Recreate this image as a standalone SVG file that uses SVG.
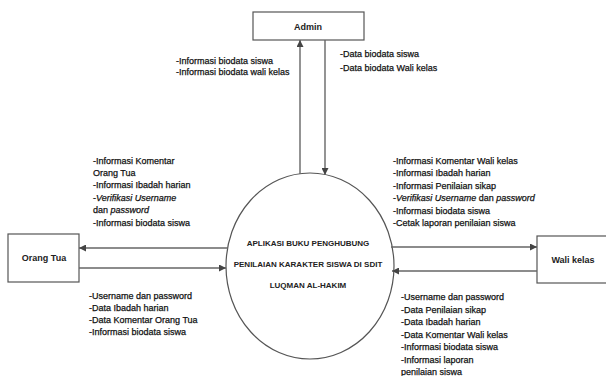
<svg xmlns="http://www.w3.org/2000/svg" width="606" height="376" viewBox="0 0 606 376">
<style>
  .box{fill:#fff;stroke:#555;stroke-width:1.2}
  .proc{fill:#fff;stroke:#555;stroke-width:1.2}
  .ln{fill:none;stroke:#666;stroke-width:1.4}
  .nt{font-family:"Liberation Sans",Arial,sans-serif;font-size:9px;font-weight:bold;fill:#222;text-anchor:middle}
  .pt{font-family:"Liberation Sans",Arial,sans-serif;font-size:8px;font-weight:bold;fill:#222;text-anchor:middle}
  .lb{font-family:"Liberation Sans",Arial,sans-serif;font-size:9px;fill:#111;stroke:#111;stroke-width:0.25}
  .it{font-style:italic}
</style>
<defs>
  <marker id="ah" viewBox="0 0 10 10" refX="10" refY="5" markerWidth="8" markerHeight="7" markerUnits="userSpaceOnUse" orient="auto">
    <path d="M0,0 L10,5 L0,10 z" fill="#444"/>
  </marker>
</defs>
<rect width="606" height="376" fill="#fff"/>

<g id="admin">
  <rect class="box" x="253" y="12" width="111" height="28"/>
  <text class="nt" x="308" y="30">Admin</text>
</g>
<g id="orang-tua">
  <rect class="box" x="8" y="234" width="71" height="48"/>
  <text class="nt" x="44" y="261">Orang Tua</text>
</g>
<g id="wali-kelas">
  <rect class="box" x="537" y="236" width="80" height="47"/>
  <text class="nt" x="573" y="263">Wali kelas</text>
</g>
<g id="proses">
  <ellipse class="proc" cx="310" cy="266" rx="84" ry="93"/>
  <text class="pt" x="308" y="246">APLIKASI BUKU PENGHUBUNG</text>
  <text class="pt" x="308" y="267">PENILAIAN KARAKTER SISWA DI SDIT</text>
  <text class="pt" x="308" y="288">LUQMAN AL-HAKIM</text>
</g>

<g id="connectors">
  <line class="ln" x1="300" y1="174" x2="300" y2="40" marker-end="url(#ah)"/>
  <line class="ln" x1="325" y1="40" x2="325" y2="175" marker-end="url(#ah)"/>
  <line class="ln" x1="228" y1="248" x2="79" y2="248" marker-end="url(#ah)"/>
  <line class="ln" x1="79" y1="268" x2="226" y2="268" marker-end="url(#ah)"/>
  <line class="ln" x1="391" y1="247" x2="537" y2="247" marker-end="url(#ah)"/>
  <line class="ln" x1="537" y1="271" x2="392" y2="271" marker-end="url(#ah)"/>
</g>

<g id="labels">
  <text class="lb" x="176" y="64">-Informasi biodata siswa</text>
  <text class="lb" x="176" y="75">-Informasi biodata wali kelas</text>

  <text class="lb" x="340" y="57">-Data biodata siswa</text>
  <text class="lb" x="340" y="71">-Data biodata Wali kelas</text>

  <text class="lb" x="93" y="164">-Informasi Komentar</text>
  <text class="lb" x="93" y="176">Orang Tua</text>
  <text class="lb" x="93" y="188">-Informasi  Ibadah harian</text>
  <text class="lb" x="93" y="201">-<tspan class="it">Verifikasi Username</tspan></text>
  <text class="lb" x="93" y="213">dan <tspan class="it">password</tspan></text>
  <text class="lb" x="93" y="226">-Informasi biodata siswa</text>

  <text class="lb" x="393" y="164">-Informasi Komentar Wali kelas</text>
  <text class="lb" x="393" y="176">-Informasi  Ibadah harian</text>
  <text class="lb" x="393" y="189">-Informasi Penilaian sikap</text>
  <text class="lb" x="393" y="201">-<tspan class="it">Verifikasi Username</tspan> dan <tspan class="it">password</tspan></text>
  <text class="lb" x="393" y="214">-Informasi biodata siswa</text>
  <text class="lb" x="393" y="226">-Cetak laporan penilaian siswa</text>

  <text class="lb" x="89" y="299">-Username dan password</text>
  <text class="lb" x="89" y="311">-Data Ibadah harian</text>
  <text class="lb" x="89" y="323">-Data Komentar Orang Tua</text>
  <text class="lb" x="89" y="335">-Informasi biodata siswa</text>

  <text class="lb" x="401" y="300">-Username dan password</text>
  <text class="lb" x="401" y="313">-Data Penilaian sikap</text>
  <text class="lb" x="401" y="325">-Data Ibadah harian</text>
  <text class="lb" x="401" y="338">-Data Komentar Wali kelas</text>
  <text class="lb" x="401" y="350">-Informasi biodata siswa</text>
  <text class="lb" x="401" y="363">-Informasi laporan</text>
  <text class="lb" x="401" y="375">penilaian siswa</text>
</g>
</svg>
